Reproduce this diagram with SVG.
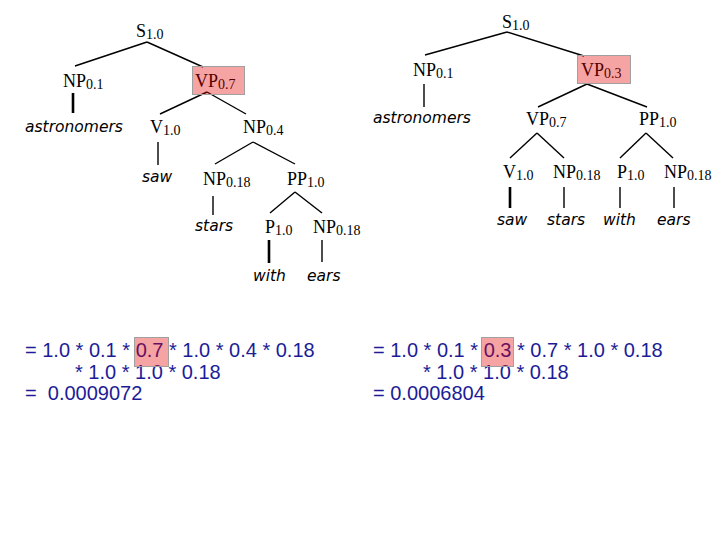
<svg xmlns="http://www.w3.org/2000/svg" width="720" height="540" viewBox="0 0 720 540">
<style>
.cat{font-family:"Liberation Serif","Times New Roman",serif;font-size:18px;fill:#000}
.sub{font-size:14px}
.word{font-family:"DejaVu Sans",Verdana,sans-serif;font-style:italic;font-size:15.5px;fill:#000}
.eq{font-family:"Liberation Sans",Arial,sans-serif;font-size:20px;fill:#1c1c98}
.hl{fill:#e60000;fill-opacity:0.36;stroke:#a0a0a0;stroke-width:1}
.edge{stroke:#000;stroke-width:1.4;fill:none}
.thick{stroke-width:2.6}
</style>
<rect width="720" height="540" fill="#fff"/>
<g id="connectors">
<line class="edge" x1="147" y1="42" x2="75" y2="66"/>
<line class="edge" x1="147" y1="42" x2="203" y2="67"/>
<line class="edge thick" x1="73" y1="93" x2="73" y2="113"/>
<line class="edge" x1="207" y1="92" x2="160" y2="114"/>
<line class="edge" x1="207" y1="92" x2="246" y2="114"/>
<line class="edge" x1="158" y1="142" x2="158" y2="165"/>
<line class="edge" x1="253" y1="142" x2="215" y2="164"/>
<line class="edge" x1="253" y1="142" x2="295" y2="164"/>
<line class="edge" x1="213" y1="196" x2="213" y2="215"/>
<line class="edge" x1="295" y1="192" x2="270" y2="213"/>
<line class="edge" x1="295" y1="192" x2="322" y2="213"/>
<line class="edge thick" x1="269" y1="240" x2="269" y2="263"/>
<line class="edge" x1="322" y1="240" x2="322" y2="262"/>
<line class="edge" x1="507" y1="32" x2="425" y2="55"/>
<line class="edge" x1="507" y1="32" x2="584" y2="56"/>
<line class="edge" x1="424" y1="84" x2="424" y2="107"/>
<line class="edge" x1="587" y1="84" x2="538" y2="107"/>
<line class="edge" x1="587" y1="84" x2="647" y2="107"/>
<line class="edge" x1="537" y1="133" x2="510" y2="158"/>
<line class="edge" x1="537" y1="133" x2="564" y2="158"/>
<line class="edge" x1="646" y1="133" x2="620" y2="158"/>
<line class="edge" x1="646" y1="133" x2="673" y2="158"/>
<line class="edge thick" x1="510" y1="187" x2="510" y2="208"/>
<line class="edge" x1="564" y1="187" x2="564" y2="208"/>
<line class="edge" x1="620" y1="187" x2="620" y2="208"/>
<line class="edge" x1="674" y1="187" x2="674" y2="208"/>
</g>
<g id="L_S"><text class="cat" x="136" y="37">S<tspan class="sub" dy="1.5">1.0</tspan></text></g>
<g id="L_NP01"><text class="cat" x="63" y="87">NP<tspan class="sub" dy="1.5">0.1</tspan></text></g>
<g id="L_VP07"><text class="cat" x="195" y="87">VP<tspan class="sub" dy="1.5">0.7</tspan></text><rect class="hl" x="192.5" y="66.5" width="52" height="28"/></g>
<g id="L_astronomers"><text class="word" x="25" y="132">astronomers</text></g>
<g id="L_V"><text class="cat" x="150" y="133">V<tspan class="sub" dy="1.5">1.0</tspan></text></g>
<g id="L_NP04"><text class="cat" x="243" y="133">NP<tspan class="sub" dy="1.5">0.4</tspan></text></g>
<g id="L_saw"><text class="word" x="142" y="182">saw</text></g>
<g id="L_NP018a"><text class="cat" x="203" y="185">NP<tspan class="sub" dy="1.5">0.18</tspan></text></g>
<g id="L_PP"><text class="cat" x="287" y="185">PP<tspan class="sub" dy="1.5">1.0</tspan></text></g>
<g id="L_stars"><text class="word" x="195" y="231">stars</text></g>
<g id="L_P"><text class="cat" x="265" y="233">P<tspan class="sub" dy="1.5">1.0</tspan></text></g>
<g id="L_NP018b"><text class="cat" x="313" y="233">NP<tspan class="sub" dy="1.5">0.18</tspan></text></g>
<g id="L_with"><text class="word" x="253" y="281">with</text></g>
<g id="L_ears"><text class="word" x="307" y="281">ears</text></g>
<g id="R_S"><text class="cat" x="502" y="28">S<tspan class="sub" dy="1.5">1.0</tspan></text></g>
<g id="R_NP01"><text class="cat" x="413" y="76">NP<tspan class="sub" dy="1.5">0.1</tspan></text></g>
<g id="R_VP03"><text class="cat" x="581" y="76">VP<tspan class="sub" dy="1.5">0.3</tspan></text><rect class="hl" x="577.5" y="55.5" width="53" height="28"/></g>
<g id="R_astronomers"><text class="word" x="373" y="123">astronomers</text></g>
<g id="R_VP07"><text class="cat" x="526" y="125">VP<tspan class="sub" dy="1.5">0.7</tspan></text></g>
<g id="R_PP"><text class="cat" x="639" y="125">PP<tspan class="sub" dy="1.5">1.0</tspan></text></g>
<g id="R_V"><text class="cat" x="503" y="178">V<tspan class="sub" dy="1.5">1.0</tspan></text></g>
<g id="R_NP018a"><text class="cat" x="553" y="178">NP<tspan class="sub" dy="1.5">0.18</tspan></text></g>
<g id="R_P"><text class="cat" x="617" y="178">P<tspan class="sub" dy="1.5">1.0</tspan></text></g>
<g id="R_NP018b"><text class="cat" x="664" y="178">NP<tspan class="sub" dy="1.5">0.18</tspan></text></g>
<g id="R_saw"><text class="word" x="497" y="225">saw</text></g>
<g id="R_stars"><text class="word" x="547" y="225">stars</text></g>
<g id="R_with"><text class="word" x="603" y="225">with</text></g>
<g id="R_ears"><text class="word" x="657" y="225">ears</text></g>
<g id="eq_left">
<text class="eq" x="25" y="357" xml:space="preserve">= 1.0 * 0.1 * 0.7 * 1.0 * 0.4 * 0.18</text>
<text class="eq" x="75" y="379" xml:space="preserve">* 1.0 * 1.0 * 0.18</text>
<text class="eq" x="25" y="400" xml:space="preserve">=  0.0009072</text>
<rect class="hl" x="134.5" y="337.5" width="34" height="29"/>
</g>
<g id="eq_right">
<text class="eq" x="373" y="357" xml:space="preserve">= 1.0 * 0.1 * 0.3 * 0.7 * 1.0 * 0.18</text>
<text class="eq" x="423" y="379" xml:space="preserve">* 1.0 * 1.0 * 0.18</text>
<text class="eq" x="373" y="400" xml:space="preserve">= 0.0006804</text>
<rect class="hl" x="481.5" y="337.5" width="32" height="29"/>
</g>
</svg>
